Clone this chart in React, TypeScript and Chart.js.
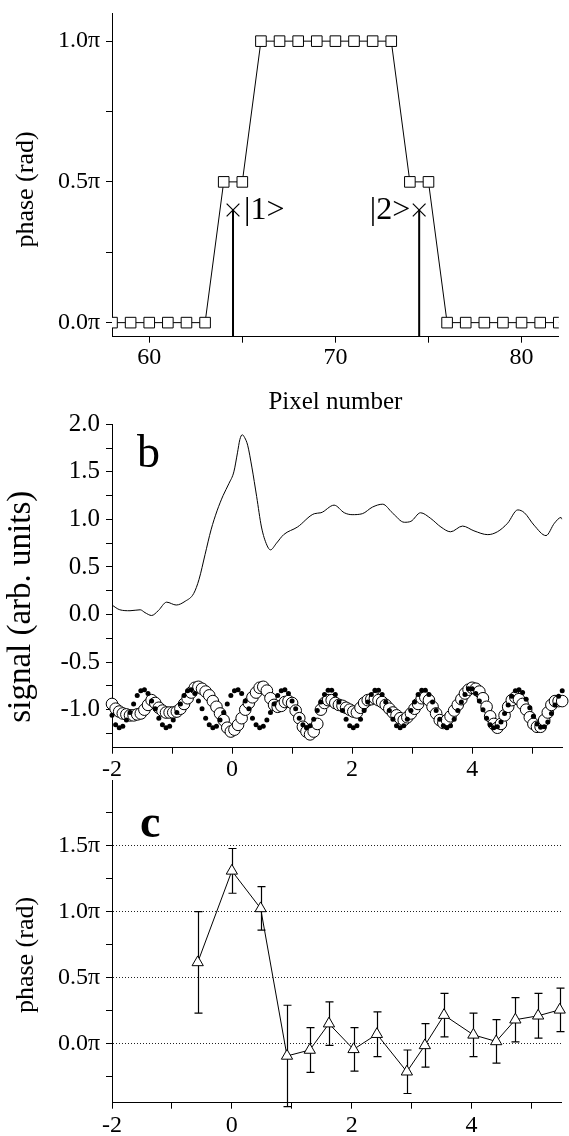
import React, { useEffect, useRef } from 'react';
import { Chart, registerables } from 'chart.js';

Chart.register(...registerables);

const SERIF = '"Liberation Serif", "Times New Roman", Times, serif';
const PAGE_W = 569;

// ---------------- Panel (a): phase pattern vs pixel ----------------
const pixelNumbers = [58, 59, 60, 61, 62, 63, 64, 65, 66, 67, 68, 69, 70, 71, 72, 73, 74, 75, 76, 77, 78, 79, 80, 81, 82];
const pixelPhases = [0, 0, 0, 0, 0, 0, 0.5, 0.5, 1, 1, 1, 1, 1, 1, 1, 1, 0.5, 0.5, 0, 0, 0, 0, 0, 0, 0];
const stickPixels = [64.5, 74.5];
const stickPhases = [0.4, 0.4];
const stickLabels = ['|1>', '|2>'];
const stickLabelSide = ['right', 'left'];
const aXRange = [58, 82];
const aYRange = [-0.05, 1.1];
const aXTicks = [60, 65, 70, 75, 80];
const aXLabelled = [60, 70, 80];
const aYTicks = [0, 0.25, 0.5, 0.75, 1];
const aYLabelled = [0, 0.5, 1];

// ---------------- Panel (b): signals ----------------
const signalX = [-2.0, -1.87, -1.7, -1.53, -1.45, -1.34, -1.23, -1.09, -0.93, -0.78, -0.64, -0.55, -0.45, -0.35, -0.25, -0.15, -0.05, 0.03, 0.09, 0.13, 0.17, 0.21, 0.26, 0.33, 0.41, 0.49, 0.58, 0.64, 0.74, 0.86, 1.09, 1.37, 1.48, 1.7, 1.87, 2.0, 2.17, 2.34, 2.51, 2.67, 2.87, 2.98, 3.14, 3.31, 3.48, 3.64, 3.84, 4.03, 4.26, 4.42, 4.59, 4.76, 4.87, 5.03, 5.23, 5.37, 5.48, 5.5];
const signalY = [0.1, 0.05, 0.04, 0.05, 0.02, -0.01, 0.04, 0.13, 0.1, 0.14, 0.22, 0.37, 0.63, 0.89, 1.09, 1.25, 1.38, 1.5, 1.7, 1.84, 1.89, 1.86, 1.78, 1.55, 1.24, 0.92, 0.73, 0.68, 0.75, 0.84, 0.92, 1.06, 1.07, 1.15, 1.07, 1.05, 1.06, 1.13, 1.16, 1.07, 0.97, 0.98, 1.07, 1.01, 0.92, 0.87, 0.93, 0.88, 0.84, 0.87, 0.96, 1.1, 1.07, 0.94, 0.83, 0.96, 1.02, 1.0];

const oscX = [
  -2.0, -1.94, -1.88, -1.82, -1.76, -1.7, -1.64, -1.58, -1.52, -1.46,
  -1.4, -1.34, -1.28, -1.22, -1.16, -1.1, -1.04, -0.98, -0.92, -0.86,
  -0.8, -0.74, -0.68, -0.62, -0.56, -0.5, -0.44, -0.38, -0.32, -0.26,
  -0.2, -0.14, -0.08, -0.02, 0.04, 0.1, 0.16, 0.22, 0.28, 0.34,
  0.4, 0.46, 0.52, 0.58, 0.64, 0.7, 0.76, 0.82, 0.88, 0.94,
  1.0, 1.06, 1.12, 1.18, 1.24, 1.3, 1.36, 1.42, 1.48, 1.54,
  1.6, 1.66, 1.72, 1.78, 1.84, 1.9, 1.96, 2.02, 2.08, 2.14,
  2.2, 2.26, 2.32, 2.38, 2.44, 2.5, 2.56, 2.62, 2.68, 2.74,
  2.8, 2.86, 2.92, 2.98, 3.04, 3.1, 3.16, 3.22, 3.28, 3.34,
  3.4, 3.46, 3.52, 3.58, 3.64, 3.7, 3.76, 3.82, 3.88, 3.94,
  4.0, 4.06, 4.12, 4.18, 4.24, 4.3, 4.36, 4.42, 4.48, 4.54,
  4.6, 4.66, 4.72, 4.78, 4.84, 4.9, 4.96, 5.02, 5.08, 5.14,
  5.2, 5.26, 5.32, 5.38, 5.44, 5.5,
];
const filledY = [
  -1.06, -1.16, -1.19, -1.175, -1.11, -1.03, -0.94, -0.85, -0.8, -0.79,
  -0.83, -0.91, -0.99, -1.09, -1.16, -1.19, -1.175, -1.11, -1.03, -0.94,
  -0.85, -0.8, -0.79, -0.83, -0.91, -0.99, -1.09, -1.16, -1.19, -1.175,
  -1.11, -1.03, -0.94, -0.85, -0.8, -0.79, -0.83, -0.91, -0.99, -1.09,
  -1.16, -1.19, -1.175, -1.11, -1.03, -0.94, -0.85, -0.8, -0.79, -0.83,
  -0.91, -0.99, -1.09, -1.16, -1.19, -1.17, -1.1, -1.01, -0.92, -0.84,
  -0.795, -0.795, -0.84, -0.92, -1.01, -1.1, -1.17, -1.19, -1.17, -1.1,
  -1.01, -0.92, -0.84, -0.795, -0.795, -0.84, -0.92, -1.01, -1.1, -1.17,
  -1.19, -1.17, -1.1, -1.01, -0.92, -0.84, -0.795, -0.795, -0.84, -0.92,
  -1.01, -1.1, -1.17, -1.19, -1.17, -1.1, -1.01, -0.92, -0.84, -0.78,
  -0.78, -0.83, -0.91, -1.0, -1.09, -1.16, -1.19, -1.18, -1.13, -1.04,
  -0.95, -0.86, -0.8, -0.79, -0.82, -0.89, -0.98, -1.07, -1.15, -1.185,
  -1.18, -1.13, -1.04, -0.95, -0.86, -0.8,
];
const openY = [
  -0.94, -0.99, -1.02, -1.04, -1.05, -1.06, -1.06, -1.05, -1.04, -1.0,
  -0.95, -0.9, -0.93, -0.98, -1.01, -1.03, -1.03, -1.03, -1.02, -0.99,
  -0.94, -0.88, -0.82, -0.77, -0.76, -0.78, -0.81, -0.85, -0.91, -0.97,
  -1.04, -1.11, -1.19, -1.23, -1.21, -1.16, -1.09, -1.0, -0.93, -0.87,
  -0.82, -0.77, -0.76, -0.8, -0.88, -0.95, -0.97, -0.96, -0.92, -0.91,
  -0.93, -1.01, -1.09, -1.18, -1.23, -1.26, -1.23, -1.15, -1.0, -0.93,
  -0.9, -0.9, -0.93, -0.95, -0.96, -0.98, -1.0, -1.02, -1.03, -0.98,
  -0.93, -0.9, -0.89, -0.88, -0.9, -0.92, -0.95, -0.99, -1.03, -1.06,
  -1.09, -1.11, -1.08, -1.04, -0.99, -0.94, -0.88, -0.87, -0.9, -0.97,
  -1.04, -1.11, -1.14, -1.11, -1.07, -1.01, -0.95, -0.89, -0.83, -0.79,
  -0.77, -0.78, -0.81, -0.88, -0.97, -1.07, -1.15, -1.19, -1.15, -1.06,
  -0.97, -0.9, -0.87, -0.89, -0.94, -1.0, -1.08, -1.15, -1.18, -1.18,
  -1.11, -1.03, -0.95, -0.91, -0.91, -0.91,
];
const bXRange = [-2, 5.5];
const bYRange = [-1.4, 2.0];
const bXTicks = [-2, -1, 0, 1, 2, 3, 4, 5];
const bXLabelled = [-2, 0, 2, 4];
const bYTicks = [-1.25, -1, -0.75, -0.5, -0.25, 0, 0.25, 0.5, 0.75, 1, 1.25, 1.5, 1.75, 2];
const bYLabelled = [-1, -0.5, 0, 0.5, 1, 1.5, 2];

// ---------------- Panel (c): extracted phase ----------------
const phaseX = [-0.57, 0.0, 0.48, 0.92, 1.3, 1.62, 2.03, 2.42, 2.92, 3.22, 3.54, 4.03, 4.41, 4.73, 5.11, 5.47];
const phaseY = [0.615, 1.31, 1.025, -0.095, -0.05, 0.15, -0.045, 0.07, -0.215, -0.015, 0.215, 0.065, 0.015, 0.18, 0.21, 0.255];
const phaseErr = [0.385, 0.17, 0.165, 0.385, 0.17, 0.165, 0.165, 0.17, 0.165, 0.165, 0.165, 0.165, 0.165, 0.168, 0.17, 0.165];
const cXRange = [-2, 5.5];
const cYRange = [-0.45, 2.0];
const cXTicks = [-2, -1, 0, 1, 2, 3, 4, 5];
const cXLabelled = [-2, 0, 2, 4];
const cYTicks = [-0.25, 0, 0.25, 0.5, 0.75, 1, 1.25, 1.5, 1.75];
const cYLabelled = [0, 0.5, 1, 1.5];

// ---------------- helpers ----------------
const has = (arr: number[], v: number) => arr.some((a) => Math.abs(a - v) < 1e-9);
const piLabel = (v: number) => `${v.toFixed(1)}\u03c0`;
const oneDec = (v: number) => v.toFixed(1);
const intLabel = (v: number) => String(v);

const fixWidth = (w: number) => (s: any) => {
  s.width = w;
  s.paddingTop = 0;
  s.paddingBottom = 0;
};
const fixHeight = (h: number) => (s: any) => {
  s.height = h;
  s.paddingLeft = 0;
  s.paddingRight = 0;
};

function baseScale(
  range: number[],
  tickVals: number[],
  labelled: number[],
  fmt: (v: number) => string,
  tickPad: number,
  fit: (s: any) => void,
  fontSize = 24
): any {
  return {
    type: 'linear',
    min: range[0],
    max: range[1],
    afterBuildTicks: (s: any) => {
      s.ticks = tickVals.map((value) => ({ value }));
    },
    afterFit: fit,
    grid: { drawOnChartArea: false, drawTicks: true, tickLength: 6, tickWidth: 1, tickColor: '#000', color: '#000' },
    border: { display: true, color: '#000', width: 1 },
    ticks: {
      autoSkip: false,
      maxRotation: 0,
      minRotation: 0,
      padding: tickPad,
      color: '#000',
      font: { family: SERIF, size: fontSize },
      callback: (v: number) => (has(labelled, v) ? fmt(v) : ''),
    },
  };
}

function drawRotated(ctx: CanvasRenderingContext2D, text: string, x: number, y: number, font: string) {
  ctx.save();
  ctx.translate(x, y);
  ctx.rotate(-Math.PI / 2);
  ctx.font = font;
  ctx.fillStyle = '#000';
  ctx.textAlign = 'center';
  ctx.textBaseline = 'middle';
  ctx.fillText(text, 0, 0);
  ctx.restore();
}

const commonOptions = {
  responsive: false,
  animation: false,
  events: [],
  plugins: { legend: { display: false }, tooltip: { enabled: false } },
};

// ---------------- chart configs ----------------
function makeA(): any {
  return {
    type: 'scatter',
    data: {
      datasets: [
        {
          data: pixelNumbers.map((x, i) => ({ x, y: pixelPhases[i] })),
          showLine: true,
          borderColor: '#000',
          borderWidth: 1,
          pointStyle: 'rect',
          pointRadius: 7.5,
          pointBackgroundColor: '#fff',
          pointBorderColor: '#000',
          pointBorderWidth: 1,
          clip: 0,
        },
        ...stickPixels.map((x, i) => ({
          data: [
            { x, y: aYRange[0] },
            { x, y: stickPhases[i] },
          ],
          showLine: true,
          borderColor: '#000',
          borderWidth: 2,
          pointStyle: 'crossRot',
          pointRadius: [0, 9],
          pointBorderColor: '#000',
          pointBorderWidth: 1.2,
          clip: 0,
        })),
      ],
    },
    options: {
      ...commonOptions,
      layout: { padding: { top: 13, right: 6.7, bottom: 0, left: 0 } },
      scales: {
        x: {
          ...baseScale(aXRange, aXTicks, aXLabelled, intLabel, 1, fixHeight(83.3)),
          title: { display: true, text: 'Pixel number', color: '#000', font: { family: SERIF, size: 25 }, padding: { top: 0, bottom: 2.5 } },
        },
        y: baseScale(aYRange, aYTicks, aYLabelled, piLabel, 6, fixWidth(112)),
      },
    },
    plugins: [
      {
        id: 'aNotes',
        afterDatasetsDraw(chart: any) {
          const { ctx, scales } = chart;
          ctx.save();
          ctx.font = `32px ${SERIF}`;
          ctx.fillStyle = '#000';
          ctx.textBaseline = 'middle';
          stickPixels.forEach((p, i) => {
            const px = scales.x.getPixelForValue(p);
            const py = scales.y.getPixelForValue(stickPhases[i]);
            if (stickLabelSide[i] === 'right') {
              ctx.textAlign = 'left';
              ctx.fillText(stickLabels[i], px + 11, py + 1);
            } else {
              ctx.textAlign = 'right';
              ctx.fillText(stickLabels[i], px - 9, py + 1);
            }
          });
          ctx.restore();
          drawRotated(ctx, 'phase (rad)', 26.5, 189.5, `26px ${SERIF}`);
        },
      },
    ],
  };
}

function makeB(): any {
  return {
    type: 'scatter',
    data: {
      datasets: [
        {
          data: oscX.map((x, i) => ({ x, y: filledY[i] })),
          showLine: false,
          pointRadius: 2.5,
          pointBackgroundColor: '#000',
          pointBorderColor: '#000',
          pointBorderWidth: 0,
          clip: false,
        },
        {
          data: oscX.map((x, i) => ({ x, y: openY[i] })),
          showLine: false,
          pointRadius: 5.8,
          pointBackgroundColor: '#fff',
          pointBorderColor: '#000',
          pointBorderWidth: 1,
          clip: false,
        },
        {
          data: signalX.map((x, i) => ({ x, y: signalY[i] })),
          showLine: true,
          borderColor: '#000',
          borderWidth: 1,
          pointRadius: 0,
          cubicInterpolationMode: 'monotone',
        },
      ],
    },
    options: {
      ...commonOptions,
      layout: { padding: { top: 24.3, right: 6.7, bottom: 0, left: 0 } },
      scales: {
        x: baseScale(bXRange, bXTicks, bXLabelled, intLabel, 2, fixHeight(42.3)),
        y: baseScale(bYRange, bYTicks, bYLabelled, oneDec, 6, fixWidth(112), 25),
      },
    },
    plugins: [
      {
        id: 'bNotes',
        afterDatasetsDraw(chart: any) {
          const { ctx, chartArea } = chart;
          ctx.save();
          ctx.font = `46px ${SERIF}`;
          ctx.fillStyle = '#000';
          ctx.textAlign = 'left';
          ctx.textBaseline = 'alphabetic';
          ctx.fillText('b', chartArea.left + 25, chartArea.top + 43);
          ctx.restore();
          drawRotated(ctx, 'signal (arb. units)', 21.5, 206.7, `33px ${SERIF}`);
        },
      },
    ],
  };
}

function makeC(): any {
  const yScale = baseScale(cYRange, cYTicks, cYLabelled, piLabel, 6, fixWidth(112));
  yScale.grid = {
    drawOnChartArea: true,
    drawTicks: true,
    tickLength: 6,
    tickWidth: 1,
    tickColor: '#000',
    lineWidth: 1,
    color: (c: any) => (c.tick && has(cYLabelled, c.tick.value) ? '#222' : 'rgba(0,0,0,0)'),
  };
  yScale.border = { display: true, color: '#000', width: 1, dash: [1, 2] };
  return {
    type: 'scatter',
    data: {
      datasets: [
        {
          data: phaseX.map((x, i) => ({ x, y: phaseY[i] })),
          showLine: true,
          borderColor: '#000',
          borderWidth: 1,
          pointStyle: 'triangle',
          pointRadius: 6.5,
          pointBackgroundColor: '#fff',
          pointBorderColor: '#000',
          pointBorderWidth: 1,
          clip: false,
        },
      ],
    },
    options: {
      ...commonOptions,
      layout: { padding: { top: 10, right: 6.7, bottom: 0, left: 0 } },
      scales: {
        x: baseScale(cXRange, cXTicks, cXLabelled, intLabel, 3, fixHeight(33.3)),
        y: yScale,
      },
    },
    plugins: [
      {
        id: 'cErrorBars',
        beforeDatasetsDraw(chart: any) {
          const { ctx, scales } = chart;
          ctx.save();
          ctx.strokeStyle = '#000';
          ctx.lineWidth = 1.2;
          phaseX.forEach((xv, i) => {
            const px = Math.round(scales.x.getPixelForValue(xv)) + 0.5;
            const yt = scales.y.getPixelForValue(phaseY[i] + phaseErr[i]);
            const yb = scales.y.getPixelForValue(phaseY[i] - phaseErr[i]);
            ctx.beginPath();
            ctx.moveTo(px, yt);
            ctx.lineTo(px, yb);
            ctx.moveTo(px - 4, yt);
            ctx.lineTo(px + 4, yt);
            ctx.moveTo(px - 4, yb);
            ctx.lineTo(px + 4, yb);
            ctx.stroke();
          });
          ctx.restore();
        },
        afterDatasetsDraw(chart: any) {
          const { ctx, chartArea } = chart;
          ctx.save();
          ctx.font = `bold 46px ${SERIF}`;
          ctx.fillStyle = '#000';
          ctx.textAlign = 'left';
          ctx.textBaseline = 'alphabetic';
          ctx.fillText('c', chartArea.left + 28, chartArea.top + 57);
          ctx.restore();
          drawRotated(ctx, 'phase (rad)', 26.5, 185, `26px ${SERIF}`);
        },
      },
    ],
  };
}

function ChartCanvas({ top, height, make }: { top: number; height: number; make: () => any }) {
  const ref = useRef<HTMLCanvasElement>(null);
  useEffect(() => {
    const chart = new Chart(ref.current as HTMLCanvasElement, make());
    return () => chart.destroy();
  }, []);
  return (
    <canvas
      ref={ref}
      width={PAGE_W}
      height={height}
      style={{ position: 'absolute', left: 0, top, width: PAGE_W, height, display: 'block' }}
    />
  );
}

export default function App() {
  return (
    <div style={{ position: 'absolute', left: 0, top: 0, width: PAGE_W, height: 1136, background: '#fff', overflow: 'hidden' }}>
      <ChartCanvas top={0} height={420} make={makeA} />
      <ChartCanvas top={400} height={390} make={makeB} />
      <ChartCanvas top={770} height={366} make={makeC} />
    </div>
  );
}
